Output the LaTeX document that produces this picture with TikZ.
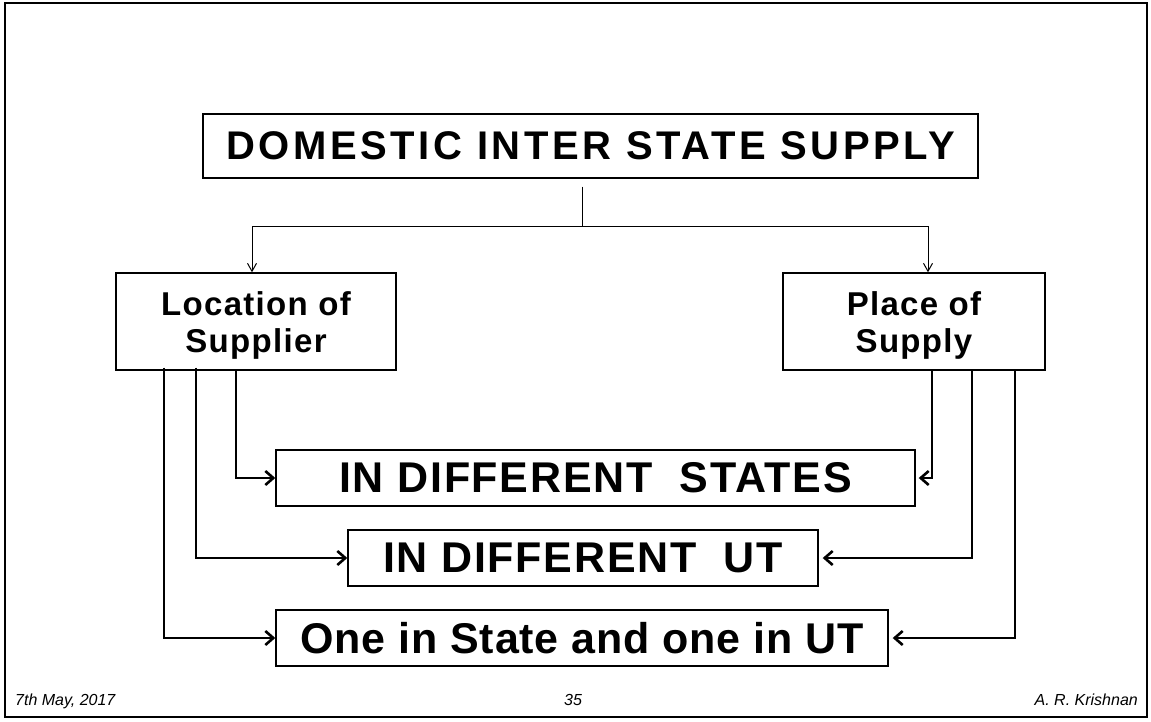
\documentclass[tikz,border=0pt]{standalone}
\usepackage{fontspec}
\setmainfont{Liberation Sans}
\newfontfamily\titlefont{Liberation Sans}[LetterSpace=9]
\newfontfamily\labelfont{Liberation Sans}[LetterSpace=4]
\newfontfamily\capsfont{Liberation Sans}[LetterSpace=4]
\newfontfamily\mixfont{Liberation Sans}[LetterSpace=2]
\usetikzlibrary{arrows.meta}

\tikzset{
  box/.style={draw, line width=1.4pt, inner sep=0pt, align=center, text=black},
  feed/.style={line width=1pt, -{Straight Barb[length=8pt,width=9pt,line width=1pt]}},
  link/.style={line width=2.8pt, -{Straight Barb[length=8pt,width=14pt,line width=2.6pt]}},
  foot/.style={font=\itshape\fontsize{16}{18}\selectfont, inner sep=0pt, anchor=base}
}

\begin{document}
\begin{tikzpicture}[x=1pt, y=-1pt]
  \useasboundingbox (0,0) rectangle (1151,721);
  % slide frame
  \draw[line width=2.5pt] (5,3) rectangle (1147,717);

  % boxes
  \node[box, minimum width=775pt, minimum height=64pt,
        font=\titlefont\bfseries\fontsize{40}{42}\selectfont]
        (title) at (590.5,146) {DOMESTIC INTER STATE SUPPLY};
  \node[box, minimum width=280pt, minimum height=97pt,
        font=\labelfont\bfseries\fontsize{33}{37}\selectfont]
        (loc) at (256,321.5) {\rule{0pt}{32pt}Location of\\Supplier};
  \node[box, minimum width=262pt, minimum height=97pt,
        font=\labelfont\bfseries\fontsize{33}{37}\selectfont]
        (pos) at (914,321.5) {\rule{0pt}{32pt}Place of\\Supply};
  \node[box, minimum width=639pt, minimum height=56pt,
        font=\capsfont\bfseries\fontsize{43}{46}\selectfont]
        (states) at (595.5,478) {IN DIFFERENT\ \ STATES};
  \node[box, minimum width=470pt, minimum height=56pt,
        font=\capsfont\bfseries\fontsize{43}{46}\selectfont]
        (ut) at (583,558) {IN DIFFERENT\ \ UT};
  \node[box, minimum width=612pt, minimum height=56pt,
        font=\mixfont\bfseries\fontsize{43}{46}\selectfont]
        (mix) at (582,638) {One in State and one in UT};

  % split from the title to the two criteria
  \coordinate (hub) at (582,226);
  \coordinate (lefthead) at (252,226);
  \coordinate (righthead) at (928,226);
  \draw[line width=1pt] (hub |- title.south) ++(0,8) -- (hub);
  \draw[line width=1pt] (lefthead) -- (righthead);
  \draw[feed] (lefthead) -- (lefthead |- loc.north);
  \draw[feed] (righthead) -- (righthead |- pos.north);

  % from Location of Supplier
  \draw[link] ([xshift=-20pt]loc.south) |- (states.west);
  \draw[link] ([xshift=-60pt,yshift=3pt]loc.south) |- (ut.west);
  \draw[link] ([xshift=-92pt,yshift=3pt]loc.south) |- (mix.west);

  % from Place of Supply
  \draw[link, shorten >=3pt] ([xshift=18pt]pos.south) |- (states.east);
  \draw[link, shorten >=4pt] ([xshift=58pt]pos.south) |- (ut.east);
  \draw[link, shorten >=4pt] ([xshift=101pt]pos.south) |- (mix.east);

  % footer
  \node[foot, anchor=base west] (date) at (15,705) {7th May, 2017};
  \node[foot] (page) at (573,705) {35};
  \node[foot, anchor=base east] (author) at (1138,705) {A. R. Krishnan};
\end{tikzpicture}
\end{document}
